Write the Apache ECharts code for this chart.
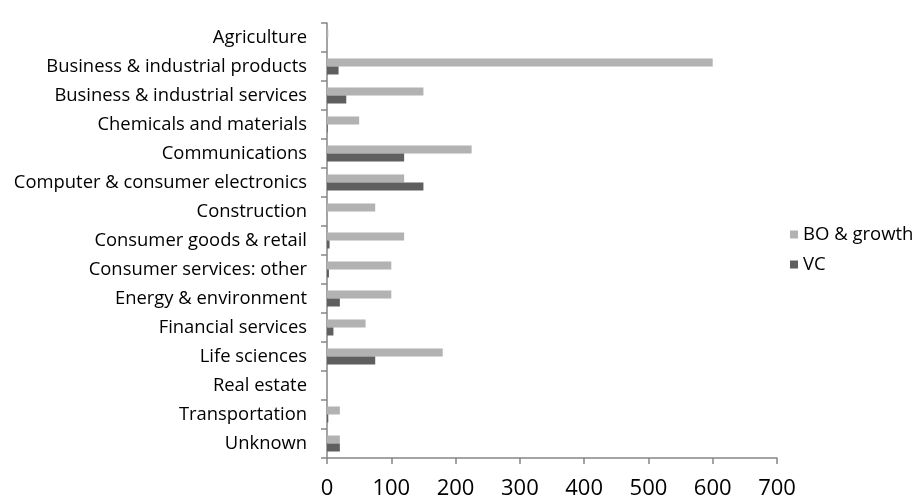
<!DOCTYPE html>
<html><head><meta charset="utf-8">
<script src="https://cdn.jsdelivr.net/npm/echarts@6/dist/echarts.min.js"></script>
<style>html,body{margin:0;padding:0;background:#fff}#c{width:919px;height:504px}</style>
</head><body><div id="c"></div>
<script>
var categories = ["Agriculture","Business & industrial products","Business & industrial services","Chemicals and materials","Communications","Computer & consumer electronics","Construction","Consumer goods & retail","Consumer services: other","Energy & environment","Financial services","Life sciences","Real estate","Transportation","Unknown"];
var boGrowth = [2,600,150,50,225,120,75,120,100,100,60,180,0,20,20];
var vc = [0,18,30,1,120,150,0,4,3,20,10,75,0,2,20];
var xTicks = [0,100,200,300,400,500,600,700];

var chart = echarts.init(document.getElementById('c'), null, {renderer:'canvas'});
var font = '"Open Sans", sans-serif';
chart.setOption({
  animation:false,
  grid:{left:327,right:142,top:23,bottom:46,containLabel:false},
  legend:{orient:'vertical',left:785,top:220,itemWidth:8,itemHeight:8,itemGap:11,icon:'rect',
    textStyle:{fontFamily:font,fontSize:18.5,color:'#000'},
    data:['BO & growth','VC']},
  xAxis:{type:'value',min:xTicks[0],max:xTicks[xTicks.length-1],interval:100,
    axisLine:{show:true,lineStyle:{color:'#868686',width:1.5}},
    axisTick:{show:true,length:6,lineStyle:{color:'#868686',width:1.5}},
    splitLine:{show:false},
    axisLabel:{fontFamily:font,fontSize:22,color:'#000',margin:20}},
  yAxis:{type:'category',inverse:true,data:categories,
    axisLine:{show:true,lineStyle:{color:'#868686',width:1.5}},
    axisTick:{show:true,length:6,lineStyle:{color:'#868686',width:1.5}},
    axisLabel:{fontFamily:font,fontSize:18.4,color:'#000',margin:20}},
  series:[
    {name:'BO & growth',type:'bar',data:boGrowth,barWidth:8,barGap:'0%',
     itemStyle:{color:'#b2b2b2'}},
    {name:'VC',type:'bar',data:vc,barWidth:8,barGap:'0%',
     itemStyle:{color:'#5f5f5f'}}
  ]
});
</script></body></html>
